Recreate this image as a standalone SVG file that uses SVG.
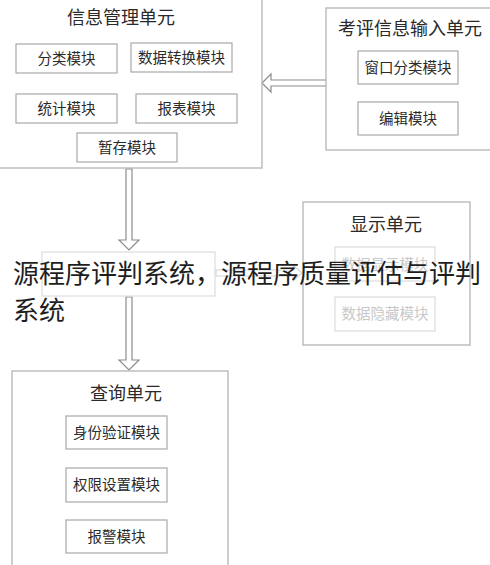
<svg xmlns="http://www.w3.org/2000/svg" width="490" height="565" viewBox="0 0 490 565">
<style>
.unit{fill:#fff;stroke:#b4b4b4;stroke-width:1.3}
.mod{fill:#fff;stroke:#a8a8a8;stroke-width:1.2}
.faint{fill:#fff;stroke:#dcdcdc;stroke-width:1.2}
.t{font-family:"Noto Sans CJK SC","Noto Sans",sans-serif;fill:#2a2a2a;text-anchor:middle}
.ut{font-size:18px}
.mt{font-size:14.5px}
.ft{font-size:14.5px;fill:#c8c8c8}
.arr{fill:#fff;stroke:#8c8c8c;stroke-width:1.2}
.farr{fill:#fff;stroke:#d4d4d4;stroke-width:1.2}
.wm{font-family:"Noto Sans CJK SC","Noto Sans",sans-serif;font-size:26px;fill:#1e1e1e}
</style>
<rect width="490" height="565" fill="#fff"/>
<g id="connectors">
<path class="arr" d="M327,80 L271,80 L271,74 L262,83 L271,92 L271,86 L327,86 Z"/>
<path class="arr" d="M126,169 L126,240 L119,240 L129,250 L139,240 L132,240 L132,169 Z"/>
<path class="arr" d="M126,297 L126,360 L119,360 L129,370 L139,360 L132,360 L132,297 Z"/>
<path class="farr" d="M216,270 L293,270 L293,265 L302,273 L293,281 L293,276 L216,276 Z"/>
</g>
<g id="info-management">
<rect class="unit" x="-1" y="-1" width="263" height="169"/>
<text class="t ut" x="121" y="24">信息管理单元</text>
<rect class="mod" x="16" y="44" width="101" height="29"/>
<text class="t mt" x="66.5" y="64">分类模块</text>
<rect class="mod" x="131" y="43" width="101" height="29"/>
<text class="t mt" x="181.5" y="63">数据转换模块</text>
<rect class="mod" x="16" y="94" width="101" height="29"/>
<text class="t mt" x="66.5" y="114">统计模块</text>
<rect class="mod" x="136" y="94" width="101" height="29"/>
<text class="t mt" x="186.5" y="114">报表模块</text>
<rect class="mod" x="77" y="133" width="100" height="29"/>
<text class="t mt" x="127" y="153">暂存模块</text>
</g>
<g id="evaluation-input">
<rect class="unit" x="326" y="8" width="170" height="142"/>
<text class="t ut" x="410" y="35">考评信息输入单元</text>
<rect class="mod" x="358" y="51" width="100" height="33"/>
<text class="t mt" x="408" y="73">窗口分类模块</text>
<rect class="mod" x="358" y="102" width="100" height="33"/>
<text class="t mt" x="408" y="124">编辑模块</text>
</g>
<g id="judge-unit">
<rect class="faint" x="42" y="252" width="173" height="44"/>
</g>
<g id="display-unit">
<rect class="unit" x="303" y="202" width="167" height="143"/>
<text class="t ut" x="386" y="231">显示单元</text>
<rect class="faint" x="335" y="247" width="100" height="34"/>
<text class="t ft" x="385" y="270">数据显示模块</text>
<rect class="faint" x="335" y="297" width="100" height="34"/>
<text class="t ft" x="385" y="319">数据隐藏模块</text>
</g>
<g id="query-unit">
<rect class="unit" x="12" y="371" width="216" height="200"/>
<text class="t ut" x="126" y="400">查询单元</text>
<rect class="mod" x="66" y="416" width="101" height="33"/>
<text class="t mt" x="116.5" y="438">身份验证模块</text>
<rect class="mod" x="66" y="468" width="101" height="34"/>
<text class="t mt" x="116.5" y="490">权限设置模块</text>
<rect class="mod" x="66" y="520" width="101" height="33"/>
<text class="t mt" x="116.5" y="542">报警模块</text>
</g>
<g id="watermark">
<text class="wm" x="13" y="283">源程序评判系统，源程序质量评估与评判</text>
<text class="wm" x="13" y="320">系统</text>
</g>
</svg>
